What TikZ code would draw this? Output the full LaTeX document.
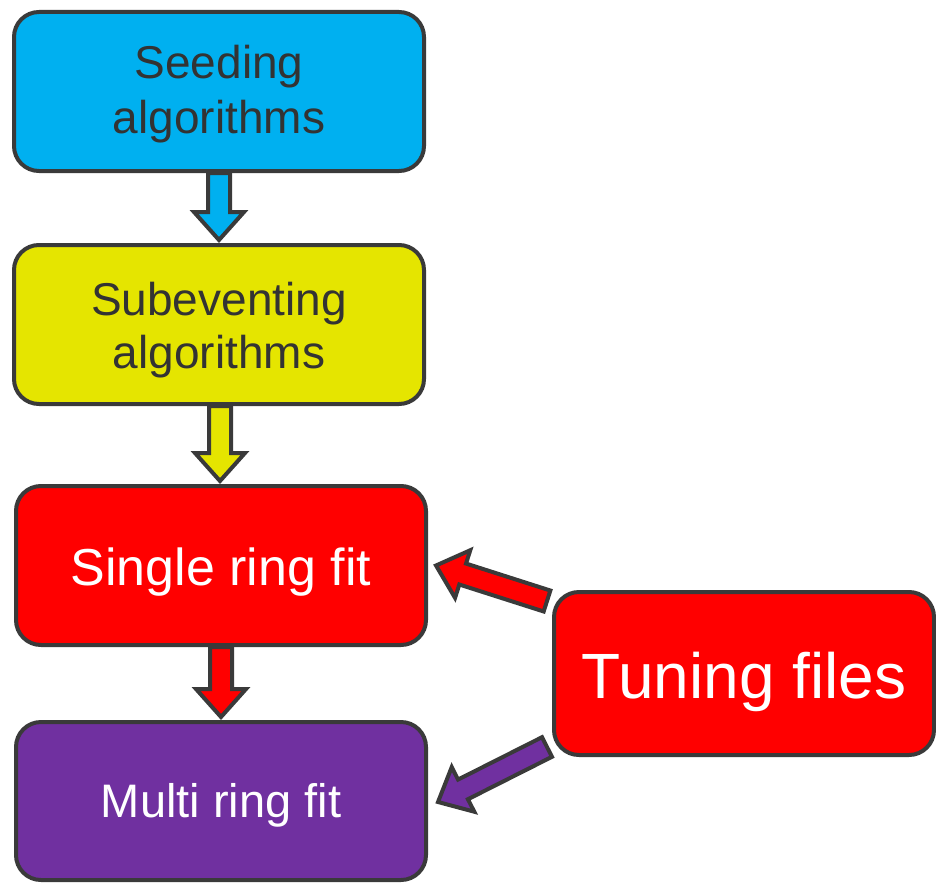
\documentclass[tikz,border=0pt]{standalone}
\usepackage{fontspec}
\setmainfont{Liberation Sans}
\usetikzlibrary{calc}
\definecolor{bcyan}{HTML}{00B0F0}
\definecolor{byellow}{HTML}{E5E500}
\definecolor{bred}{HTML}{FF0000}
\definecolor{bpurple}{HTML}{7030A0}
\definecolor{bline}{HTML}{3A3A3A}
\definecolor{btext}{HTML}{333333}
\tikzset{
  box/.style={draw=bline, line width=4pt, rounded corners=25pt, minimum width=410pt, minimum height=159pt, align=center, inner sep=0pt},
  barrow/.style={draw=bline, line width=4pt, line join=miter}
}
\newcommand\blockarr[3]{%
  \coordinate (ba-h) at ($(#2)!28pt!(#1)$);
  \draw[barrow, fill=#3] ($(#1)!11pt!90:(#2)$) -- ($(ba-h)!11pt!-90:(#1)$) -- ($(ba-h)!25pt!-90:(#1)$) -- (#2) -- ($(ba-h)!25pt!90:(#1)$) -- ($(ba-h)!11pt!90:(#1)$) -- ($(#1)!11pt!-90:(#2)$) -- cycle;}
\begin{document}
\begin{tikzpicture}[x=1pt, y=-1pt]
\useasboundingbox (0,0) rectangle (936,883);
\node[box, fill=bcyan, text=btext, font=\fontsize{46}{55}\selectfont, text height=83pt, text depth=0pt] (seed) at (219,91.5) {Seeding\\algorithms};
\node[box, fill=byellow, text=btext, font=\fontsize{46}{53}\selectfont, text height=87pt, text depth=0pt] (sub) at (219,324.5) {Subeventing\\algorithms};
\node[box, fill=bred, text=white, font=\fontsize{52}{60}\selectfont, text height=39pt, text depth=0pt] (single) at (221,565.5) {Single ring fit};
\node[box, fill=bpurple, text=white, minimum height=158pt, font=\fontsize{47}{55}\selectfont, text height=32pt, text depth=0pt] (multi) at (221,801) {Multi ring fit};
\node[box, fill=bred, text=white, minimum width=380pt, minimum height=163pt, font=\fontsize{64}{70}\selectfont, text height=49pt, text depth=0pt] (tune) at (744,673.5) {Tuning files};
% down arrows
\coordinate (a1s) at (seed.south);
\coordinate (a1e) at ($(sub.north)+(0,-3)$);
\blockarr{a1s}{a1e}{bcyan}
\coordinate (a2s) at ($(sub.south)+(1,0)$);
\coordinate (a2e) at ($(single.north)+(-1,-3)$);
\blockarr{a2s}{a2e}{byellow}
\coordinate (a3s) at (single.south);
\coordinate (a3e) at ($(multi.north)+(0,-3)$);
\blockarr{a3s}{a3e}{bred}
% diagonal arrows
\coordinate (d1s) at ($(tune.north west)+(-5,11)$);
\coordinate (d1e) at ($(single.east)+(8,0)$);
\blockarr{d1s}{d1e}{bred}
\coordinate (d2s) at ($(tune.south west)+(-5,-10)$);
\coordinate (d2e) at ($(multi.east)+(10,1)$);
\blockarr{d2s}{d2e}{bpurple}
\end{tikzpicture}
\end{document}
